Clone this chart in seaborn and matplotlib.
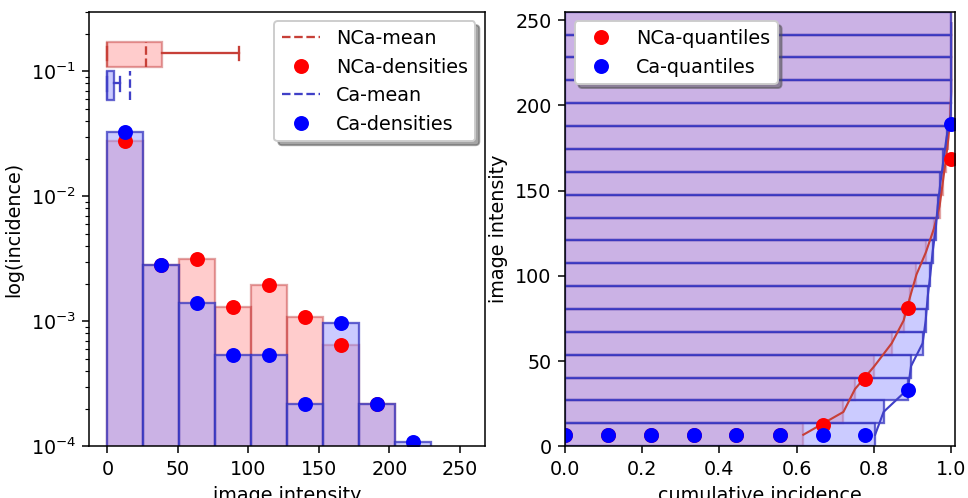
import numpy as np
import pandas as pd
import matplotlib
matplotlib.use("Agg")
import matplotlib.pyplot as plt
import seaborn as sns

# left panel: binned densities (10 bins over 0..255)
hist_edges = np.linspace(0, 255, 11)
nca_density = [0.0279, 0.0028, 0.00312, 0.00129, 0.00194, 0.00108, 0.000643, 0.000217, 0, 0]
ca_density = [0.0325, 0.0028, 0.0014, 0.000535, 0.000535, 0.000217, 0.00097, 0.000217, 0.000109, 0]

# box summaries drawn above the histogram
nca_box = dict(q1=0.0, med=0.0, q3=38.9, whislo=0.0, whishi=93.0, mean=27.5)
ca_box = dict(q1=0.0, med=0.0, q3=4.7, whislo=0.0, whishi=9.0, mean=16.2)

# right panel: cumulative incidence (19 bins over 0..255)
cum_edges = np.linspace(0, 255, 20)
nca_cum = [0.617, 0.721, 0.751, 0.801, 0.846, 0.877, 0.893, 0.910, 0.935, 0.955,
           0.970, 0.978, 0.986, 0.993, 0.998, 1.0, 1.0, 1.0, 1.0]
ca_cum = [0.803, 0.825, 0.888, 0.896, 0.926, 0.934, 0.939, 0.946, 0.952, 0.960,
          0.965, 0.972, 0.980, 0.988, 0.999, 1.0, 1.0, 1.0, 1.0]

quant_levels = [0.0, 0.111, 0.222, 0.333, 0.444, 0.556, 0.667, 0.778, 0.889, 1.0]
nca_quant = [6.5, 6.5, 6.5, 6.5, 6.5, 6.5, 12.5, 39.5, 81.0, 168.5]
ca_quant = [6.5, 6.5, 6.5, 6.5, 6.5, 6.5, 6.5, 6.5, 33.0, 189.0]

red_fill = (1.0, 0.0, 0.0, 0.2)
red_edge = (0.75, 0.2, 0.2, 0.45)
blue_fill = (0.6, 0.6, 1.0, 0.5)
blue_edge = (0.2, 0.2, 0.75, 0.75)
red_line = (0.78, 0.25, 0.22)
blue_line = (0.25, 0.25, 0.78)
DPI = 138

hist_mid = (hist_edges[:-1] + hist_edges[1:]) / 2
cum_mid = (cum_edges[:-1] + cum_edges[1:]) / 2

left_df = pd.DataFrame({"intensity": hist_mid, "nca": nca_density, "ca": ca_density})
right_df = pd.DataFrame({"intensity": cum_mid, "nca": nca_cum, "ca": ca_cum})

fig = plt.figure(figsize=(968 / DPI, 498 / DPI), dpi=DPI)
ax1 = fig.add_axes([0.0923, 0.104, 0.4088, 0.8725])
ax2 = fig.add_axes([0.5837, 0.104, 0.4029, 0.8725])

# ---- left: histogram with log counts ----
for col, fc, ec in [("nca", red_fill, red_edge), ("ca", blue_fill, blue_edge)]:
    sns.histplot(data=left_df, x="intensity", weights=col, bins=list(hist_edges),
                 facecolor=fc, edgecolor=ec, linewidth=1.2, ax=ax1)
ax1.set_yscale("log")

box_kw = dict(orientation="horizontal", patch_artist=True, showmeans=True,
              meanline=True, showfliers=False, manage_ticks=False)
nca_bx = ax1.bxp([nca_box], positions=[0.140], widths=[0.063],
                 boxprops=dict(facecolor=red_fill, edgecolor=red_edge, linewidth=1.2),
                 whiskerprops=dict(color=red_line, linewidth=1.2),
                 capprops=dict(color=red_line, linewidth=1.2),
                 medianprops=dict(color=red_line, linewidth=1.2, alpha=0.6),
                 meanprops=dict(color=red_line, linestyle="--", linewidth=1.2),
                 **box_kw)
ca_bx = ax1.bxp([ca_box], positions=[0.080], widths=[0.043],
                boxprops=dict(facecolor=blue_fill, edgecolor=blue_edge, linewidth=1.2),
                whiskerprops=dict(color=blue_line, linewidth=1.2),
                capprops=dict(color=blue_line, linewidth=1.2),
                medianprops=dict(color=blue_line, linewidth=1.2, alpha=0.6),
                meanprops=dict(color=blue_line, linestyle="--", linewidth=1.2),
                **box_kw)

nca_dots, = ax1.plot(hist_mid, nca_density, "o", color="red", markersize=6.8)
ca_dots, = ax1.plot(hist_mid, ca_density, "o", color="blue", markersize=6.8)

ax1.set_xlim(-12.75, 267.75)
ax1.set_ylim(1e-4, 0.3)
ax1.set_xticks([0, 50, 100, 150, 200, 250])
ax1.set_xlabel("image intensity")
ax1.set_ylabel("log(incidence)")
ax1.legend([nca_bx["means"][0], nca_dots, ca_bx["means"][0], ca_dots],
           ["NCa-mean", "NCa-densities", "Ca-mean", "Ca-densities"],
           loc="upper right", shadow=True)

# ---- right: cumulative incidence as horizontal bars ----
for col, fc, ec in [("nca", red_fill, red_edge), ("ca", blue_fill, blue_edge)]:
    sns.histplot(data=right_df, y="intensity", weights=col, bins=list(cum_edges),
                 facecolor=fc, edgecolor=ec, linewidth=1.2, ax=ax2)
sns.lineplot(data=right_df, x="nca", y="intensity", sort=False, estimator=None,
             color=red_line, linewidth=1.1, ax=ax2)
sns.lineplot(data=right_df, x="ca", y="intensity", sort=False, estimator=None,
             color=blue_line, linewidth=1.1, ax=ax2)
ax2.plot(quant_levels, nca_quant, "o", color="red", markersize=6.8, label="NCa-quantiles")
ax2.plot(quant_levels, ca_quant, "o", color="blue", markersize=6.8, label="Ca-quantiles")

ax2.set_xlim(0, 1.01)
ax2.set_ylim(0, 255)
ax2.set_yticks([0, 50, 100, 150, 200, 250])
ax2.set_xlabel("cumulative incidence")
ax2.set_ylabel("image intensity")
ax2.legend(loc="upper left", shadow=True)

fig.savefig("out.png", dpi=DPI)
